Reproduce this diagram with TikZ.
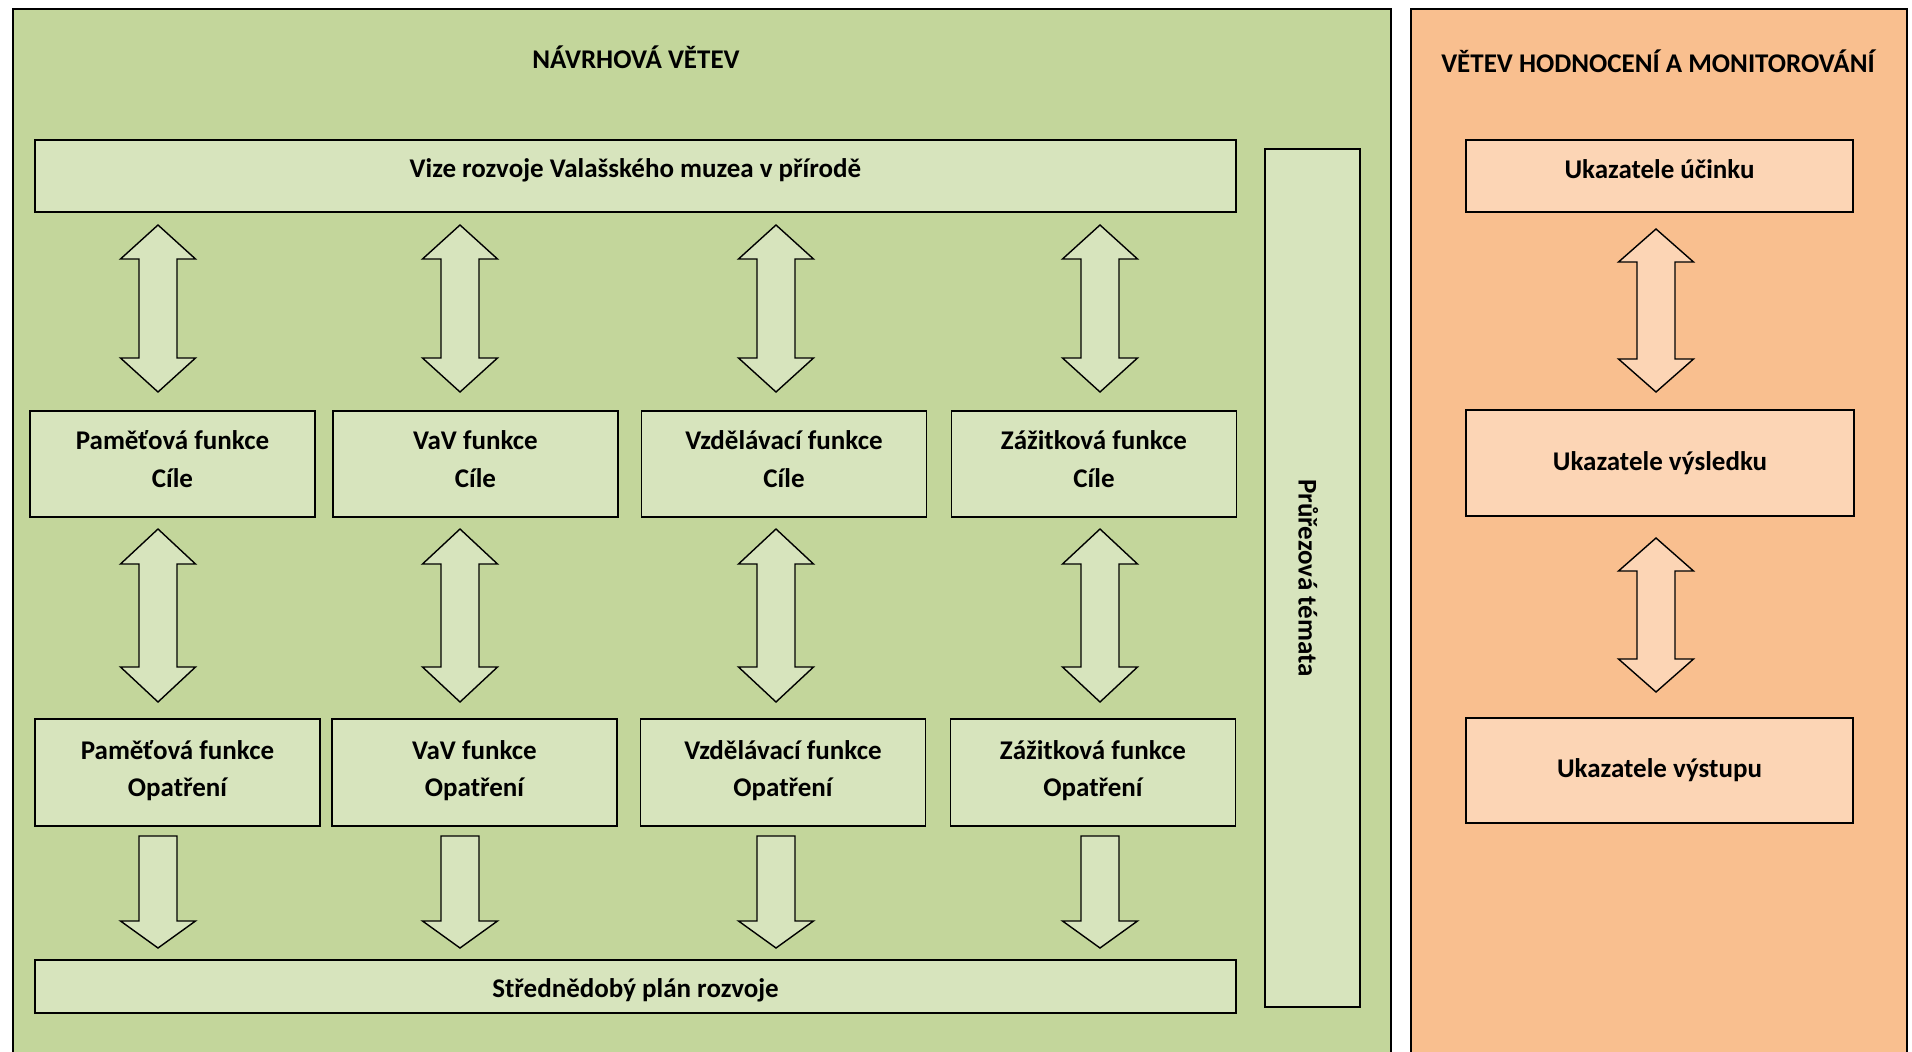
\documentclass[tikz,border=0pt]{standalone}
\usepackage{fontspec}
\setmainfont{Carlito}
\usetikzlibrary{calc}

\definecolor{navrhbg}{HTML}{C3D69B}
\definecolor{navrhbox}{HTML}{D7E4BD}
\definecolor{hodnbg}{HTML}{F9BF8F}
\definecolor{hodnbox}{HTML}{FCD5B5}

% block arrows: [head length]{style}{top tip}{bottom tip}
\newcommand{\dblarrow}[4][34]{%
  \draw[#2] (#3) -- ++(37.5,#1) -- ++(-18.5,0) -- ($(#4)+(19,-#1)$) -- ++(18.5,0) -- (#4)
    -- ++(-37.5,-#1) -- ++(18.5,0) -- ($(#3)+(-19,#1)$) -- ++(-18.5,0) -- cycle;}
% {style}{tail centre}{tip}
\newcommand{\downblock}[3]{%
  \draw[#1] ($(#2)+(-19,0)$) -- ++(38,0) -- ($(#3)+(19,-27)$) -- ++(18.5,0) -- (#3)
    -- ++(-37.5,-27) -- ++(18.5,0) -- cycle;}

\begin{document}
\begin{tikzpicture}[x=1pt, y=-1pt,
    txt/.style={font=\bfseries\fontsize{27}{37.5}\selectfont, align=center, inner sep=0pt},
    gbox/.style={draw, line width=1.6pt, fill=navrhbox, inner sep=0pt},
    obox/.style={draw, line width=1.6pt, fill=hodnbox, inner sep=0pt},
    garrow/.style={draw, line width=1.4pt, fill=navrhbox},
    oarrow/.style={draw, line width=1.4pt, fill=hodnbox}]
        \useasboundingbox (0,0) rectangle (1912,1052);
        \clip (0,0) rectangle (1912,1052);

        % Branch backgrounds
        \draw[fill=navrhbg, line width=1.8pt] (13,9) rectangle (1391,1080);
        \draw[fill=hodnbg, line width=1.8pt] (1411,9) rectangle (1907,1080);

        % Titles
        \node[txt] (navrh) at (636,57) {NÁVRHOVÁ VĚTEV};
        \node[txt] (hodn) at (1658,61) {VĚTEV HODNOCENÍ A MONITOROVÁNÍ};

        % Design branch
        \node[gbox, minimum width=1201, minimum height=72,
              label={[txt, yshift=6pt]center:Vize rozvoje Valašského muzea v přírodě}] (vize) at (635.5,176) {};
        \foreach \f/\xc/\xo [count=\i] in {Paměťová funkce/172.5/177.5, VaV funkce/475.5/474.5,
            Vzdělávací funkce/784/783, Zážitková funkce/1094/1093} {
          \node[gbox, minimum width=285, minimum height=106,
                label={[txt, yshift=5pt]center:{\f\\Cíle}}] (cil\i) at (\xc,464) {};
          \node[gbox, minimum width=285, minimum height=107,
                label={[txt, yshift=2pt]center:{\f\\Opatření}}] (opa\i) at (\xo,772.5) {};
        }
        \node[gbox, minimum width=1201, minimum height=53,
              label={[txt, yshift=-4pt]center:Střednědobý plán rozvoje}] (plan) at (635.5,986.5) {};
        \node[gbox, txt, rotate=-90, text height=28pt, minimum width=858, minimum height=95] (prurez) at (1312.5,578) {Průřezová témata};

        % Arrows of the design branch
        \foreach \x [count=\i] in {158,460,776,1100} {
          \coordinate (va\i) at (\x,225); \coordinate (vb\i) at (\x,392);
          \coordinate (ca\i) at (\x,529); \coordinate (cb\i) at (\x,702);
          \coordinate (oa\i) at (\x,836); \coordinate (ob\i) at (\x,948);
          \dblarrow{garrow}{va\i}{vb\i}
          \dblarrow[35]{garrow}{ca\i}{cb\i}
          \downblock{garrow}{oa\i}{ob\i}
        }

        % Evaluation branch
        \node[obox, minimum width=387, minimum height=72,
              label={[txt, yshift=7pt]center:Ukazatele účinku}] (ucinek) at (1659.5,176) {};
        \node[obox, minimum width=388, minimum height=106,
              label={[txt]center:Ukazatele výsledku}] (vysledek) at (1660,463) {};
        \node[obox, minimum width=387, minimum height=105,
              label={[txt]center:Ukazatele výstupu}] (vystup) at (1659.5,770.5) {};
        \coordinate (ua) at (1656,229); \coordinate (ub) at (1656,392);
        \coordinate (uc) at (1656,538); \coordinate (ud) at (1656,692);
        \dblarrow[33]{oarrow}{ua}{ub}
        \dblarrow[33]{oarrow}{uc}{ud}
    \end{tikzpicture}
\end{document}
